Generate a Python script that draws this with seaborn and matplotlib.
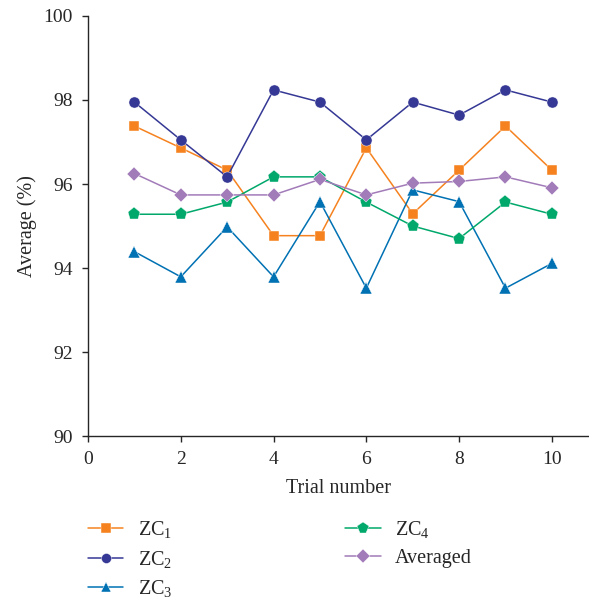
import numpy as np
import pandas as pd
import matplotlib
matplotlib.use("Agg")
import matplotlib.pyplot as plt
import seaborn as sns

trials = [1, 2, 3, 4, 5, 6, 7, 8, 9, 10]
zc1 = [97.38, 96.86, 96.33, 94.77, 94.77, 96.86, 95.29, 96.33, 97.38, 96.33]
zc2 = [97.95, 97.05, 96.17, 98.24, 97.95, 97.05, 97.95, 97.64, 98.24, 97.95]
zc3 = [94.39, 93.79, 94.98, 93.79, 95.58, 93.52, 95.86, 95.58, 93.52, 94.11]
zc4 = [95.28, 95.28, 95.57, 96.17, 96.17, 95.57, 95.00, 94.70, 95.57, 95.28]
averaged = [96.25, 95.74, 95.74, 95.74, 96.11, 95.74, 96.02, 96.06, 96.17, 95.91]

series_names = ["ZC$_1$", "ZC$_2$", "ZC$_3$", "ZC$_4$", "Averaged"]
colors = ["#F5821F", "#353894", "#0071B3", "#00A86B", "#A27BB9"]
markers = ["s", "o", "^", "p", "D"]
msizes = [7.5, 8, 8.5, 9.5, 7.5]

# long form table for seaborn
rows = []
for name, vals in zip(series_names, [zc1, zc2, zc3, zc4, averaged]):
    for t, v in zip(trials, vals):
        rows.append({"Trial": t, "Average": v, "Series": name})
df = pd.DataFrame(rows)

sns.set_style("ticks")
plt.rcParams["font.family"] = ["Liberation Serif", "DejaVu Serif"]
plt.rcParams["mathtext.fontset"] = "custom"
plt.rcParams["mathtext.rm"] = "Liberation Serif"
plt.rcParams["mathtext.default"] = "rm"

fig = plt.figure(figsize=(5.89, 6.01), dpi=100)
ax = fig.add_axes([0.1494, 0.2745, 0.8490, 0.6989])

sns.lineplot(data=df, x="Trial", y="Average", hue="Series", style="Series",
             hue_order=series_names, style_order=series_names,
             palette=dict(zip(series_names, colors)),
             markers=dict(zip(series_names, markers)),
             dashes=False, markersize=8, markeredgewidth=0.3,
             linewidth=1.1, ax=ax)

# per-series marker sizes
size_by_color = dict(zip(colors, msizes))
for ln in ax.lines:
    c = matplotlib.colors.to_hex(ln.get_color()).upper()
    if c in size_by_color:
        ln.set_markersize(size_by_color[c])

ax.set_xlim(0, 10.78)
ax.set_ylim(90, 100)
ax.set_xticks([0, 2, 4, 6, 8, 10])
ax.set_yticks([90, 92, 94, 96, 98, 100])
ax.set_xlabel("Trial number", fontsize=14.5, labelpad=8)
ax.set_ylabel("Average (%)", fontsize=14.5, labelpad=5)
ax.tick_params(labelsize=14, length=4, width=1, direction="out", pad=6.8)
for s in ["left", "bottom"]:
    ax.spines[s].set_linewidth(1.0)
sns.despine(ax=ax)

handles, labels = ax.get_legend_handles_labels()
ax.get_legend().remove()
fig.legend(handles, labels, loc="upper left", bbox_to_anchor=(0.119, 0.1664),
           ncol=2, frameon=False, fontsize=14.5, handlelength=1.75,
           handletextpad=0.7, columnspacing=8.6, labelspacing=0.42,
           markerscale=0.9)

fig.savefig("out.png", dpi=100)
